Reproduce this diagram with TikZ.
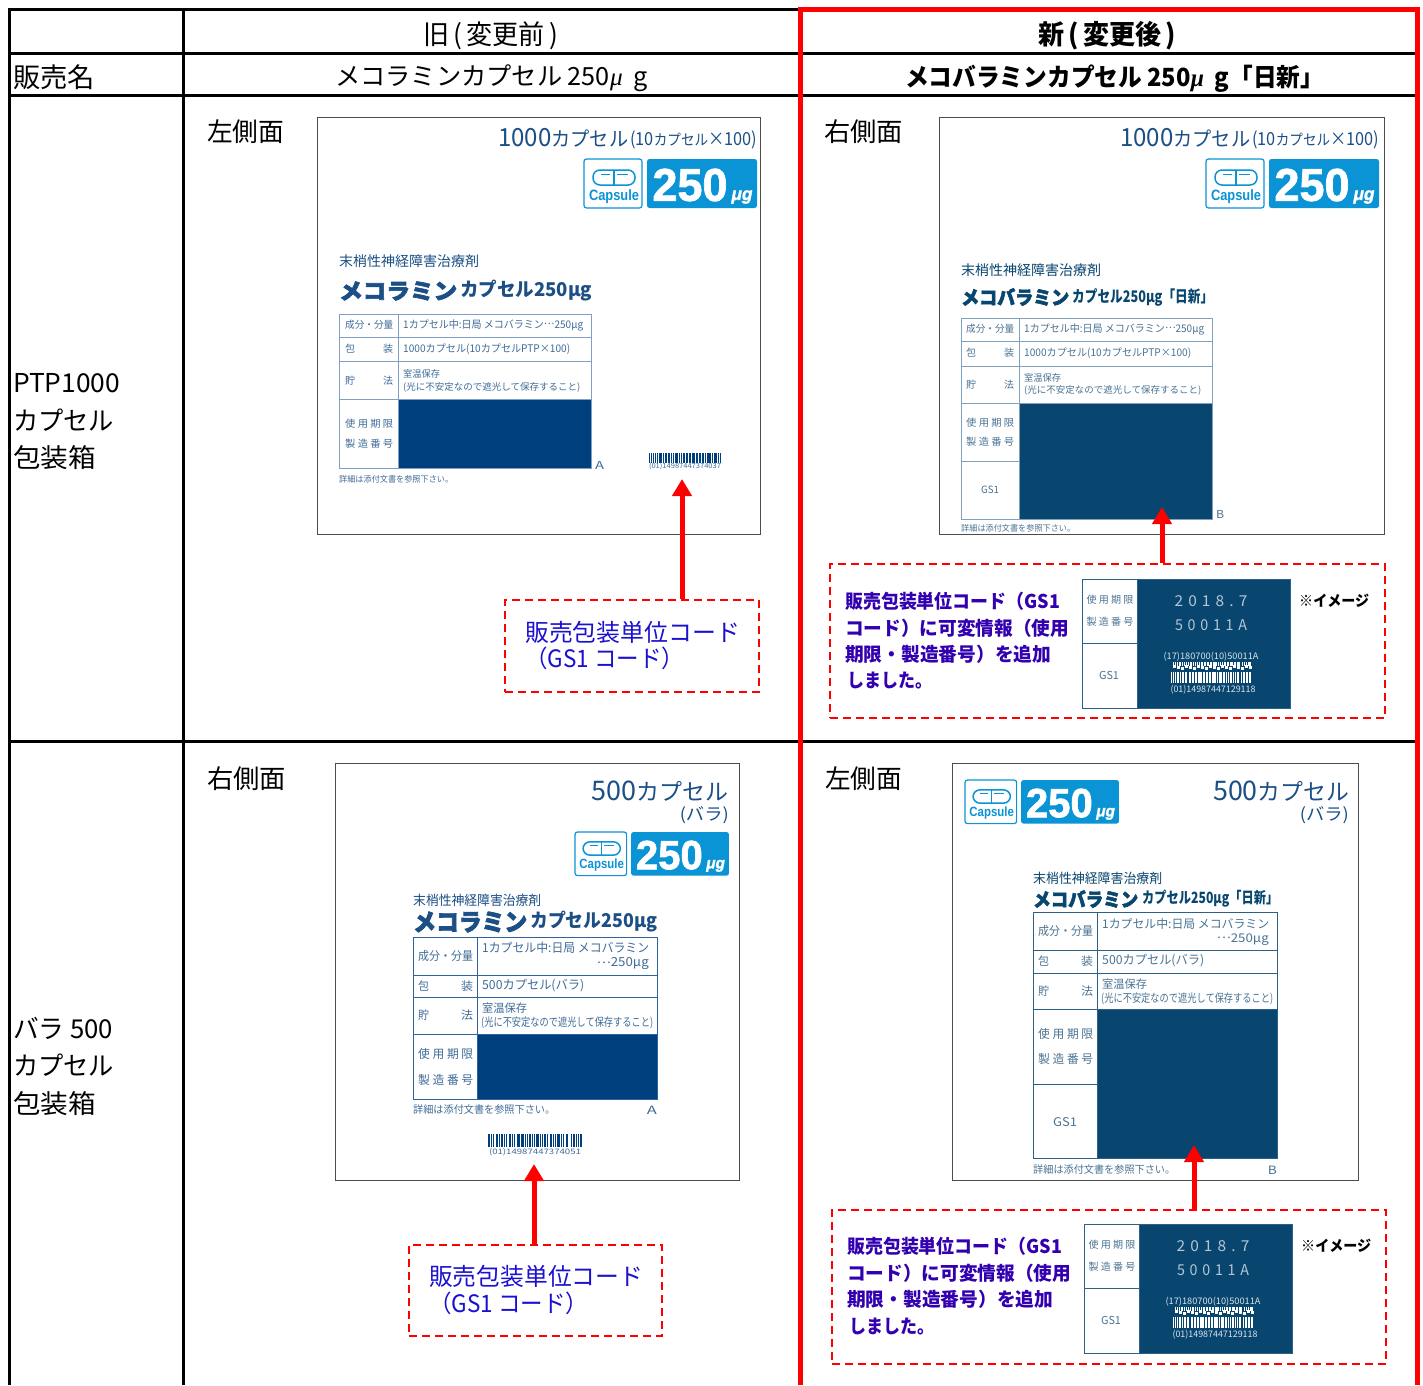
\documentclass[tikz,border=0pt]{standalone}
\usepackage{fontspec}
\usetikzlibrary{arrows.meta}
\setmainfont{Noto Sans CJK JP}
\newfontfamily\jpheavy{Noto Sans CJK JP}[BoldFont=*,UprightFont=*/B,FakeBold=3]
\newfontfamily\lat{Liberation Sans}
\newfontfamily\latheavy{Liberation Sans}[UprightFont=*/B,FakeBold=1.6]
\newfontfamily\ser{Liberation Serif}
\definecolor{navyA}{HTML}{1B4F85}
\definecolor{darkA}{HTML}{003F7D}
\definecolor{darkB}{HTML}{08466F}
\definecolor{greyA}{HTML}{3F6C98}
\definecolor{greyB}{HTML}{4A7393}
\definecolor{lineA}{HTML}{7F9FC4}
\definecolor{lineB}{HTML}{7FA3BE}
\definecolor{lineC}{HTML}{2F639F}
\definecolor{lineD}{HTML}{2B6088}
\definecolor{badgeblue}{HTML}{0A94D6}
\definecolor{callA}{HTML}{1A10D0}
\definecolor{callB}{HTML}{3300B0}
\newcounter{tn}
\newcommand\tx[7]{\stepcounter{tn}\node[anchor=#1,inner sep=0pt,text=#6] (t\arabic{tn}) at (#2,#3) {\resizebox{#4pt}{\height}{\fontsize{#5pt}{#5pt}\selectfont #7}};}
\newcommand\mug{{\ser\itshape μ}}
\newcommand\mdots{\raisebox{.3em}{…}}
\newcommand\fsz[1]{\fontsize{#1pt}{#1pt}\selectfont}
\tikzset{
  grid/.style={line width=3pt,black},
  redframe/.style={line width=5pt,red},
  panel/.style={line width=1pt,draw=black!70},
  callout/.style={draw=red,line width=1.8pt,dash pattern=on 8pt off 5pt,inner sep=0pt},
  redarrow/.style={line width=5pt,red,-{Triangle[width=19pt,length=17pt]}},
  tline/.style={line width=1pt},
}
% badge: origin at top-left of capsule box; natural size 173x49
\newcommand\badge[3]{\begin{scope}[shift={(#1,#2)},scale=#3,transform shape]
  \draw[badgeblue,line width=1.2pt,fill=white,rounded corners=2.5pt] (0,0) rectangle (58,49);
  \fill[badgeblue,rounded corners=2.5pt] (63,0) rectangle (173,49);
  \draw[badgeblue,line width=1.5pt,rounded corners=7pt] (9,11) rectangle (51,26);
  \draw[badgeblue,line width=1.1pt] (30,11) -- (30,26);
  \draw[badgeblue,line width=1.2pt] (17,15.5) -- (26,15.5) (33,15.5) -- (44,15.5);
  \tx{center}{30}{37.5}{50}{15}{badgeblue}{\lat\bfseries Capsule}
  \tx{center}{106}{26}{75}{46}{white}{\latheavy 250}
  \tx{center}{158}{38}{21}{18}{white}{\latheavy\itshape μg}
\end{scope}}
% barcode
\newcommand\bcode[5]{\foreach \a/\b in {0/1.6,3/1,5.5/1,8/2.2,11.5/1,14/2,17/1,19/1.2,22/2.8,26/1,28/1.2,30.5/2,33.5/1,35.5/3,39.5/1,41.5/1,44/2,47/1,49/1.3,51.5/3,55.5/1,57.5/1,60/2,63/1.2,65.5/2.5,69/1,71/1,73.5/3,78/1,80/1,82.5/3,88/1,90.5/2,93.5/1,95.5/1,98/2}
  {\fill[#5] ({#1+\a*#3/100},#2) rectangle ({#1+(\a+\b)*#3/100},{#2+#4});}}
% inset picture
\newcommand\inset[2]{\begin{scope}[shift={(#1,#2)}]
  \fill[white] (0,0) rectangle (208,129);
  \fill[darkB] (55,0) rectangle (208,129);
  \draw[lineD,tline] (0,0) rectangle (208,129) (0,64) -- (55,64) (55,0) -- (55,129);
  \tx{center}{28}{21}{47}{10}{greyB}{使 用 期 限}
  \tx{center}{28}{43}{47}{10}{greyB}{製 造 番 号}
  \tx{center}{27}{96}{20}{11}{greyB}{GS1}
  \tx{center}{129}{22}{73}{15}{white!70!darkB}{2\,\,0\,\,1\,\,8\,\,.\,\,7}
  \tx{center}{129}{46}{72}{15}{white!70!darkB}{5\,\,0\,\,0\,\,1\,\,1\,\,A}
  \tx{center}{129}{78}{95}{9}{white!85!darkB}{(17)180700(10)50011A}
  \bcode{91}{83}{78}{4}{white}
  \foreach \a in {0,4,...,76}{\fill[white] ({91+\a},{86+mod(\a,3)}) rectangle ++(2.5,2.5);}
  \bcode{89}{93}{80}{11}{white}
  \tx{center}{131}{111}{85}{9}{white!85!darkB}{(01)14987447129118}
\end{scope}}
\newcommand\calltext[2]{\begin{scope}[shift={(#1,#2)}]
  \tx{west}{0}{0}{215}{19}{callB}{\bfseries 販売包装単位コード（GS1}
  \tx{west}{0}{27}{224}{19}{callB}{\bfseries コード）に可変情報（使用}
  \tx{west}{0}{53}{206}{19}{callB}{\bfseries 期限・製造番号）を追加}
  \tx{west}{2}{80}{85}{19}{callB}{\bfseries しました。}
  \tx{west}{454}{0}{70}{15}{black}{\bfseries ※イメージ}
\end{scope}}
\begin{document}
\begin{tikzpicture}[x=1pt,y=-1pt]
\useasboundingbox (0,0) rectangle (1423,1385);
\fill[white] (0,0) rectangle (1423,1385);

% ---------- panel 1
\draw[panel] (317,117) rectangle (760,534);
\tx{west}{207}{132}{77}{26}{black}{左側面}
\tx{west}{498}{138}{130}{25}{navyA}{1000{\fsz{20}カプセル}}
\tx{west}{630}{140}{127}{18}{navyA}{(10{\fsz{15}カプセル}×100)}
\badge{584}{159}{1}
\tx{west}{339}{261}{140}{14}{navyA}{末梢性神経障害治療剤}
\tx{west}{339}{291}{118}{22}{navyA}{\jpheavy メコラミン}
\tx{west}{460}{291}{132}{19}{navyA}{\bfseries カプセル250μg}
\fill[darkA] (398,399) rectangle (591,468);
\draw[lineA,tline] (339,314) rectangle (591,468) (398,314) -- (398,468)
  (339,337) -- (591,337) (339,361) -- (591,361) (339,399) -- (591,399);
\tx{west}{345}{325}{48}{10}{greyA}{成分・分量}
\tx{west}{403}{325}{180}{10.5}{greyA}{1カプセル中:日局 メコバラミン\mdots 250μg}
\tx{west}{345}{349}{10}{10}{greyA}{包}\tx{west}{383}{349}{10}{10}{greyA}{装}
\tx{west}{403}{349}{167}{10.5}{greyA}{1000カプセル(10カプセルPTP×100)}
\tx{west}{345}{381}{10}{10}{greyA}{貯}\tx{west}{383}{381}{10}{10}{greyA}{法}
\tx{west}{403}{374}{37}{9.5}{greyA}{室温保存}
\tx{west}{403}{387}{177}{9.5}{greyA}{(光に不安定なので遮光して保存すること)}
\tx{west}{345}{424}{48}{10}{greyA}{使 用 期 限}
\tx{west}{345}{444}{48}{10}{greyA}{製 造 番 号}
\tx{west}{595}{465}{9}{11}{greyA}{A}
\tx{west}{339}{479}{114}{8.5}{greyA}{詳細は添付文書を参照下さい。}
\bcode{649}{453}{72}{9.5}{darkA}
\tx{center}{685}{466.5}{72}{7}{greyA}{(01)14987447374037}
% callout 1
\node[callout,minimum width=254pt,minimum height=92pt] (c1) at (632,646) {};
\tx{west}{525}{632}{215}{24}{callA}{販売包装単位コード}
\tx{west}{525}{658}{159}{24}{callA}{（GS1 コード）}
\coordinate (a1) at (682,479);
\draw[redarrow] (c1.north -| a1) -- (a1);

% ---------- panel 2
\draw[panel] (939,117) rectangle (1384,534);
\tx{west}{824}{132}{79}{26}{black}{右側面}
\tx{west}{1120}{138}{130}{25}{navyA}{1000{\fsz{20}カプセル}}
\tx{west}{1252}{140}{127}{18}{navyA}{(10{\fsz{15}カプセル}×100)}
\badge{1206}{159}{1}
\tx{west}{961}{270}{140}{14}{darkB}{末梢性神経障害治療剤}
\tx{west}{961}{297}{108}{19}{darkB}{\jpheavy メコバラミン}
\tx{west}{1072}{297}{141}{16}{darkB}{\bfseries カプセル250μg「日新」}
\fill[darkB] (1019,403) rectangle (1212,519);
\draw[lineB,tline] (961,318) rectangle (1212,519) (1019,318) -- (1019,519)
  (961,341) -- (1212,341) (961,366) -- (1212,366) (961,403) -- (1212,403) (961,461) -- (1019,461);
\tx{west}{966}{329}{48}{10}{greyB}{成分・分量}
\tx{west}{1024}{329}{180}{10.5}{greyB}{1カプセル中:日局 メコバラミン\mdots 250μg}
\tx{west}{966}{353}{10}{10}{greyB}{包}\tx{west}{1004}{353}{10}{10}{greyB}{装}
\tx{west}{1024}{353}{167}{10.5}{greyB}{1000カプセル(10カプセルPTP×100)}
\tx{west}{966}{385}{10}{10}{greyB}{貯}\tx{west}{1004}{385}{10}{10}{greyB}{法}
\tx{west}{1024}{378}{37}{9.5}{greyB}{室温保存}
\tx{west}{1024}{390}{177}{9.5}{greyB}{(光に不安定なので遮光して保存すること)}
\tx{west}{966}{423}{48}{10}{greyB}{使 用 期 限}
\tx{west}{966}{442}{48}{10}{greyB}{製 造 番 号}
\tx{center}{990}{490}{18}{10}{greyB}{GS1}
\tx{west}{1216}{514}{8}{11}{greyB}{B}
\tx{west}{961}{528}{114}{8.5}{greyB}{詳細は添付文書を参照下さい。}
% callout 2
\node[callout,minimum width=555pt,minimum height=154pt] (c2) at (1107.5,641) {};
\calltext{845}{601}
\inset{1082}{579}
\coordinate (a2) at (1162,507);
\draw[redarrow] (c2.north -| a2) -- (a2);

% ---------- panel 3
\draw[panel] (335,763) rectangle (739,1180);
\tx{west}{207}{779}{79}{26}{black}{右側面}
\tx{east}{729}{791}{137}{27}{navyA}{500{\fsz{23}カプセル}}
\tx{east}{729}{815}{49}{17}{navyA}{(バラ)}
\badge{575}{832}{0.89}
\tx{west}{413}{900}{128}{13.5}{navyA}{末梢性神経障害治療剤}
\tx{west}{413}{922}{114}{24}{navyA}{\jpheavy メコラミン}
\tx{west}{530}{922}{127}{19}{navyA}{\bfseries カプセル250μg}
\fill[darkA] (477,1034) rectangle (657,1099);
\draw[lineC,tline] (413,937) rectangle (657,1099) (477,937) -- (477,1099)
  (413,975) -- (657,975) (413,997) -- (657,997) (413,1034) -- (657,1034);
\tx{west}{418}{956}{55}{12}{greyA}{成分・分量}
\tx{west}{482}{948}{167}{12.5}{greyA}{1カプセル中:日局 メコバラミン}
\tx{east}{649}{964}{52}{12.5}{greyA}{\mdots 250μg}
\tx{west}{418}{986}{11}{11.5}{greyA}{包}\tx{west}{461}{986}{12}{11.5}{greyA}{装}
\tx{west}{482}{986}{102}{12.5}{greyA}{500カプセル(バラ)}
\tx{west}{418}{1015}{11}{11.5}{greyA}{貯}\tx{west}{461}{1015}{12}{11.5}{greyA}{法}
\tx{west}{482}{1008}{45}{11.5}{greyA}{室温保存}
\tx{west}{481}{1023}{172}{11.5}{greyA}{(光に不安定なので遮光して保存すること)}
\tx{west}{418}{1054}{55}{12}{greyA}{使 用 期 限}
\tx{west}{418}{1080}{55}{12}{greyA}{製 造 番 号}
\tx{west}{413}{1110}{142}{10.5}{greyA}{詳細は添付文書を参照下さい。}
\tx{east}{657}{1110}{10}{11.5}{greyA}{A}
\bcode{488}{1134}{94}{13}{darkA}
\tx{center}{535}{1152}{92}{7.5}{greyA}{(01)14987447374051}
% callout 3
\node[callout,minimum width=253pt,minimum height=91pt] (c3) at (535.5,1290.5) {};
\tx{west}{429}{1276}{214}{24}{callA}{販売包装単位コード}
\tx{west}{429}{1303}{159}{24}{callA}{（GS1 コード）}
\coordinate (a3) at (534,1164);
\draw[redarrow] (c3.north -| a3) -- (a3);

% ---------- panel 4
\draw[panel] (952,763) rectangle (1358,1180);
\tx{west}{825}{779}{77}{26}{black}{左側面}
\tx{west}{1213}{791}{136}{27}{navyA}{500{\fsz{23}カプセル}}
\tx{east}{1349}{815}{49}{17}{navyA}{(バラ)}
\badge{965}{780}{0.89}
\tx{west}{1033}{878}{129}{13.5}{darkB}{末梢性神経障害治療剤}
\tx{west}{1033}{899}{105}{19}{darkB}{\jpheavy メコバラミン}
\tx{west}{1142}{899}{136}{15.5}{darkB}{\bfseries カプセル250μg「日新」}
\fill[darkB] (1097,1009) rectangle (1277,1158);
\draw[lineD,tline] (1033,912) rectangle (1277,1158) (1097,912) -- (1097,1158)
  (1033,950) -- (1277,950) (1033,973) -- (1277,973) (1033,1009) -- (1277,1009) (1033,1084) -- (1097,1084);
\tx{west}{1038}{931}{55}{12}{greyB}{成分・分量}
\tx{west}{1102}{923.5}{167}{12}{greyB}{1カプセル中:日局 メコバラミン}
\tx{east}{1269}{939.5}{52}{12}{greyB}{\mdots 250μg}
\tx{west}{1038}{961}{11}{11.5}{greyB}{包}\tx{west}{1081}{961}{12}{11.5}{greyB}{装}
\tx{west}{1102}{961}{102}{12.5}{greyB}{500カプセル(バラ)}
\tx{west}{1038}{991}{11}{11.5}{greyB}{貯}\tx{west}{1081}{991}{12}{11.5}{greyB}{法}
\tx{west}{1102}{984}{45}{11.5}{greyB}{室温保存}
\tx{west}{1101}{999}{172}{11.5}{greyB}{(光に不安定なので遮光して保存すること)}
\tx{west}{1038}{1034}{55}{12}{greyB}{使 用 期 限}
\tx{west}{1038}{1059}{55}{12}{greyB}{製 造 番 号}
\tx{center}{1065}{1122}{24}{12}{greyB}{GS1}
\tx{west}{1033}{1170}{142}{10.5}{greyB}{詳細は添付文書を参照下さい。}
\tx{east}{1277}{1170}{9}{11.5}{greyB}{B}
% callout 4
\node[callout,minimum width=554pt,minimum height=154pt] (c4) at (1109,1287) {};
\calltext{847}{1246}
\inset{1084}{1224}
\coordinate (a4) at (1194,1145);
\draw[redarrow] (c4.north -| a4) -- (a4);

% ---------- table text
\tx{center}{490.5}{36}{135}{27}{black}{旧\,(\,変更前\,)}
\tx{center}{1107}{36}{138}{27}{black}{\bfseries 新\,(\,変更後\,)}
\tx{west}{13}{77}{82}{27}{black}{販売名}
\tx{west}{335}{78.5}{313}{25}{black}{メコラミンカプセル 250\mug\ \ g}
\tx{west}{905}{78.5}{419}{25}{black}{\bfseries メコバラミンカプセル 250\mug\ \ g「日新」}
\tx{west}{13}{383}{107}{26}{black}{PTP1000}
\tx{west}{13}{420}{101}{26}{black}{カプセル}
\tx{west}{13}{458}{83}{26}{black}{包装箱}
\tx{west}{13}{1028}{100}{26}{black}{バラ 500}
\tx{west}{13}{1065}{101}{26}{black}{カプセル}
\tx{west}{13}{1104}{83}{26}{black}{包装箱}

% ---------- grid
\draw[grid] (9,7.5) -- (9,1385) (183,8) -- (183,1385);
\draw[grid] (8,9) -- (800,9) (8,53) -- (1417,53) (8,95) -- (1417,95) (8,741) -- (1417,741);
\draw[redframe] (800.5,9) -- (800.5,1385) (1417,7) -- (1417,1385) (798,9) -- (1419.5,9);
\end{tikzpicture}
\end{document}
